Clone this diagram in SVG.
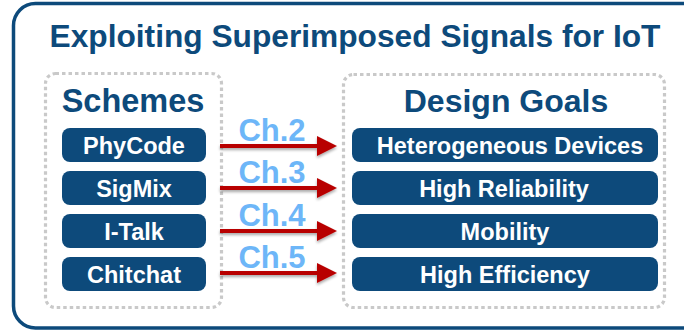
<svg xmlns="http://www.w3.org/2000/svg" width="684" height="333" viewBox="0 0 684 333">
  <defs>
    <style>
      .frame { fill: #ffffff; stroke: #0d4a7b; stroke-width: 3.5; }
      .group { fill: none; stroke: #c9c9c9; stroke-width: 3.2; stroke-dasharray: 3.5 3; }
      .title { font-family: "Liberation Sans", Arial, sans-serif; font-weight: bold; fill: #0d4a7b; text-anchor: middle; }
      .box { fill: #0d4a7b; }
      .label { font-family: "Liberation Sans", Arial, sans-serif; font-weight: bold; font-size: 23.5px; fill: #ffffff; text-anchor: middle; }
      .ch { font-family: "Liberation Sans", Arial, sans-serif; font-weight: bold; font-size: 31px; fill: #6db6f8; text-anchor: middle; }
      .shaft { stroke: #b80000; stroke-width: 4; fill: none; }
      .head { fill: #b80000; }
    </style>
    <filter id="drop" x="-10%" y="-50%" width="120%" height="250%">
      <feGaussianBlur in="SourceAlpha" stdDeviation="1.5"/>
      <feOffset dx="0" dy="2" result="b"/>
      <feComponentTransfer><feFuncA type="linear" slope="0.35"/></feComponentTransfer>
      <feMerge><feMergeNode/><feMergeNode in="SourceGraphic"/></feMerge>
    </filter>
    <g id="arrow">
      <line class="shaft" x1="220" y1="0" x2="320" y2="0"/>
      <polygon class="head" points="317,-10 337,0 317,10"/>
    </g>
  </defs>

  <!-- outer frame -->
  <rect class="frame" x="13.5" y="3.5" width="700" height="324.5" rx="22"/>
  <text class="title" x="355" y="47" font-size="31.7">Exploiting Superimposed Signals for IoT</text>

  <!-- dotted groups -->
  <rect class="group" x="45.5" y="73.5" width="176" height="234" rx="10"/>
  <rect class="group" x="343.5" y="74.5" width="321" height="233" rx="10"/>
  <text class="title" x="133" y="112" font-size="32.5">Schemes</text>
  <text class="title" x="506" y="112" font-size="32">Design Goals</text>

  <!-- schemes -->
  <g id="phycode"><rect class="box" x="62" y="128" width="144" height="34" rx="8"/><text class="label" x="134" y="153.5">PhyCode</text></g>
  <g id="sigmix"><rect class="box" x="62" y="171" width="144" height="34" rx="8"/><text class="label" x="134" y="196.5">SigMix</text></g>
  <g id="italk"><rect class="box" x="62" y="214" width="144" height="34" rx="8"/><text class="label" x="134" y="239.5">I-Talk</text></g>
  <g id="chitchat"><rect class="box" x="62" y="257" width="144" height="34" rx="8"/><text class="label" x="134" y="282.5">Chitchat</text></g>

  <!-- design goals -->
  <g id="heterogeneous"><rect class="box" x="352" y="128" width="306" height="34" rx="8"/><text class="label" x="510" y="153.5">Heterogeneous Devices</text></g>
  <g id="reliability"><rect class="box" x="352" y="171" width="306" height="34" rx="8"/><text class="label" x="504" y="196.5">High Reliability</text></g>
  <g id="mobility"><rect class="box" x="352" y="214" width="306" height="34" rx="8"/><text class="label" x="505" y="239.5">Mobility</text></g>
  <g id="efficiency"><rect class="box" x="352" y="257" width="306" height="34" rx="8"/><text class="label" x="505" y="282.5">High Efficiency</text></g>

  <!-- connectors -->
  <g id="connectors" filter="url(#drop)">
    <use href="#arrow" y="146"/>
    <use href="#arrow" y="188"/>
    <use href="#arrow" y="231"/>
    <use href="#arrow" y="273"/>
  </g>
  <g id="chapters">
    <text class="ch" x="272" y="141">Ch.2</text>
    <text class="ch" x="272" y="183">Ch.3</text>
    <text class="ch" x="272" y="226">Ch.4</text>
    <text class="ch" x="272" y="268">Ch.5</text>
  </g>
</svg>
